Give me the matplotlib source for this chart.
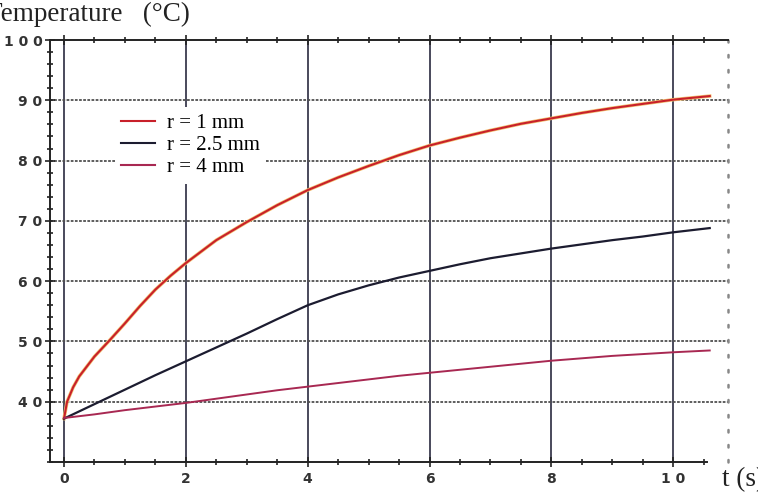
import matplotlib
matplotlib.use("Agg")
import matplotlib.pyplot as plt
import matplotlib.patheffects as pe
from matplotlib.ticker import MultipleLocator, FixedLocator, FuncFormatter

# Daten
t_red = [0, 0.05, 0.15, 0.25, 0.5, 0.75, 1, 1.25, 1.5, 1.75, 2, 2.5, 3, 3.5,
         4, 4.5, 5, 5.5, 6, 6.5, 7, 7.5, 8, 8.5, 9, 9.5, 10, 10.6]
temp_r1 = [37.2, 40.0, 42.4, 44.2, 47.5, 50.2, 53.0, 55.9, 58.6, 60.9, 63.0,
           66.8, 69.8, 72.6, 75.1, 77.2, 79.1, 80.9, 82.5, 83.8, 85.0, 86.1,
           87.0, 87.9, 88.7, 89.4, 90.1, 90.7]

t_grid = [0, 0.5, 1, 1.5, 2, 2.5, 3, 3.5, 4, 4.5, 5, 5.5, 6, 6.5, 7, 7.5,
          8, 8.5, 9, 9.5, 10, 10.6]
temp_r25 = [37.2, 39.6, 42.0, 44.4, 46.7, 49.0, 51.3, 53.7, 56.0, 57.8, 59.3,
            60.6, 61.7, 62.8, 63.8, 64.6, 65.4, 66.1, 66.8, 67.4, 68.1, 68.8]
temp_r4 = [37.3, 37.9, 38.6, 39.2, 39.8, 40.5, 41.2, 41.9, 42.5, 43.1, 43.7,
           44.3, 44.8, 45.3, 45.8, 46.3, 46.8, 47.2, 47.6, 47.9, 48.2, 48.5]

labels = ["r = 1 mm", "r = 2.5 mm", "r = 4 mm"]
x_ticks = [0, 2, 4, 6, 8, 10]
y_ticks = [40, 50, 60, 70, 80, 90, 100]

serif = "Liberation Serif"

fig = plt.figure(figsize=(7.58, 4.98), dpi=100)
ax = fig.add_axes([50 / 758, 36 / 498, 678 / 758, 422 / 498])
ax.set_xlim(-0.23, 10.9)
ax.set_ylim(30, 100)

# Gitter
for x in x_ticks:
    ax.axvline(x, color="#2a2a40", lw=1.2, zorder=1)
for y in y_ticks[:-1]:
    ax.axhline(y, color="#505050", lw=1.3, ls=(0, (1.5, 0.8)), zorder=1)

# Kurven
ax.plot(t_red, temp_r1, color="#c8202a", lw=1.5, zorder=3,
        path_effects=[pe.Stroke(linewidth=2.5, foreground="#f2c070"), pe.Normal()],
        label=labels[0])
ax.plot(t_grid, temp_r25, color="#1c1c30", lw=1.6, zorder=3, label=labels[1])
ax.plot(t_grid, temp_r4, color="#a82852", lw=1.4, zorder=3, label=labels[2])

# Achsen / Rahmen
for s in ["left", "top", "bottom"]:
    ax.spines[s].set_color("#222222")
    ax.spines[s].set_linewidth(1.4)
ax.spines["bottom"].set_bounds(-0.23, 10.55)
ax.spines["right"].set_color("#888888")
ax.spines["right"].set_linestyle((0, (1, 5)))
ax.spines["right"].set_linewidth(1.8)
ax.spines["right"].set_capstyle("round")

ax.xaxis.set_major_locator(FixedLocator(x_ticks))
ax.xaxis.set_minor_locator(MultipleLocator(0.5))
ax.yaxis.set_major_locator(FixedLocator(y_ticks))
ax.yaxis.set_minor_locator(MultipleLocator(2))

fmt = FuncFormatter(lambda v, p: " ".join(str(int(round(v)))))
ax.xaxis.set_major_formatter(fmt)
ax.yaxis.set_major_formatter(fmt)

ax.tick_params(which="both", direction="inout", color="#222222", width=1.2,
               top=True, right=False, labeltop=False)
ax.tick_params(which="major", length=7)
ax.tick_params(which="minor", length=5)
ax.tick_params(axis="y", which="major", pad=2)
ax.tick_params(axis="x", which="major", pad=4)
for lab in ax.get_xticklabels() + ax.get_yticklabels():
    lab.set_fontweight("bold")
    lab.set_fontsize(10)
    lab.set_color("#333333")

# Legende
leg = ax.legend(loc="upper left", bbox_to_anchor=(0.08, 0.865),
                frameon=True, facecolor="white", edgecolor="none",
                framealpha=1, fancybox=False, handlelength=1.65,
                handletextpad=0.55, labelspacing=0.12, borderpad=0.3,
                prop={"family": serif, "size": 15})
leg.set_zorder(5)
for h in leg.get_lines():
    h.set_linewidth(1.5)
    h.set_path_effects([])

# Achsenbeschriftungen
fig.text(-14 / 758, 1 - 14 / 498, "Temperature   (\u00b0C)", family=serif,
         fontsize=19.5, ha="left", va="center", color="#222222")
fig.text(722 / 758, 1 - 480 / 498, "t (s)", family=serif,
         fontsize=19.5, ha="left", va="center", color="#222222")

fig.savefig("out.png", dpi=100)
